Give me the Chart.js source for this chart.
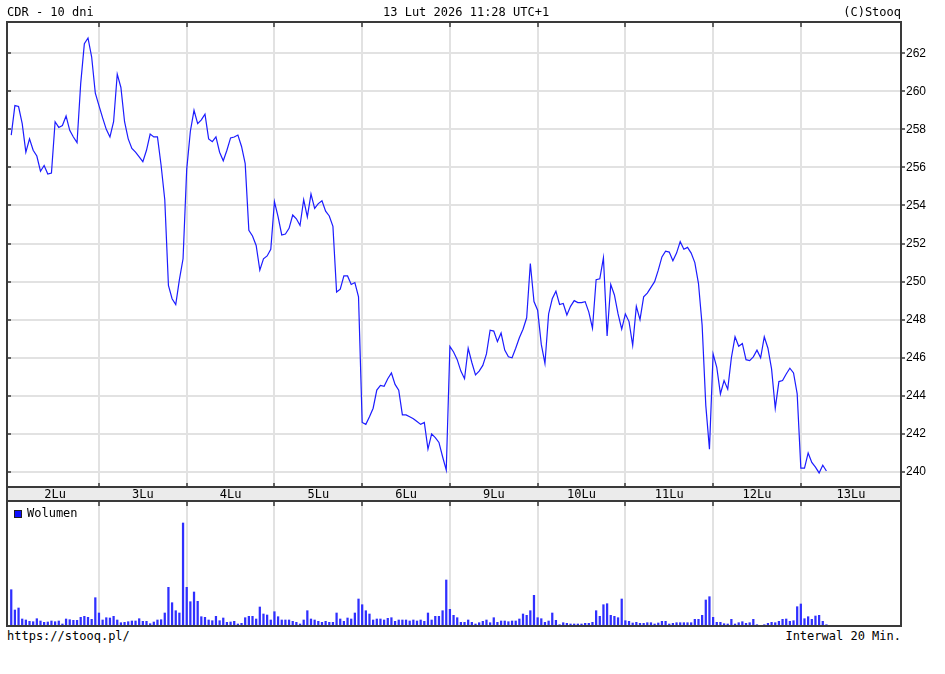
<!DOCTYPE html>
<html>
<head>
<meta charset="utf-8">
<script src="https://cdn.jsdelivr.net/npm/chart.js@4.4.1/dist/chart.umd.min.js"></script>
<style>
  body { margin: 0; background: #fff; width: 945px; height: 674px; position: relative; overflow: hidden;
         font-family: "DejaVu Sans Mono", monospace; font-size: 12px; color: #000; }
  .txt { position: absolute; white-space: pre; line-height: 14px; }
  canvas { position: absolute; left: 0; }
  .sw { display: inline-block; width: 6px; height: 6px; background: #1010ff; border: 1px solid #222;
        margin-right: 5px; vertical-align: -1px; }
</style>
</head>
<body>
<canvas id="priceChart" width="945" height="502" style="top:0"></canvas>
<canvas id="volChart" width="945" height="128" style="top:500px"></canvas>

<div class="txt" style="left:7px;top:5px">CDR - 10 dni</div>
<div class="txt" style="left:383px;top:5px">13 Lut 2026 11:28 UTC+1</div>
<div class="txt" style="right:44px;top:5px">(C)Stooq</div>
<div class="txt" style="left:14px;top:506px"><span class="sw"></span>Wolumen</div>
<div class="txt" style="left:7px;top:629px">https://stooq.pl/</div>
<div class="txt" style="right:44px;top:629px">Interwal 20 Min.</div>

<script>
// =========================
// DATA (20 min bars, 24 per session)
// =========================
const slotsPerDay = 24;
const dayLabels = ["2Lu", "3Lu", "4Lu", "5Lu", "6Lu", "9Lu", "10Lu", "11Lu", "12Lu", "13Lu"];
const priceTicks = [240, 242, 244, 246, 248, 250, 252, 254, 256, 258, 260, 262];

const price = [
    // 2Lu
    257.7, 259.25, 259.2, 258.3, 256.8, 257.5, 256.9, 256.6, 255.8, 256.1, 255.65, 255.7,
    258.4, 258.1, 258.2, 258.7, 257.95, 257.6, 257.3, 260.4, 262.5, 262.8, 261.8, 259.9,
    // 3Lu
    259.25, 258.6, 258.0, 257.6, 258.4, 260.9, 260.2, 258.4, 257.5, 257.0, 256.8, 256.55,
    256.3, 256.9, 257.75, 257.6, 257.6, 256.1, 254.3, 249.8, 249.1, 248.8, 250.1, 251.2,
    // 4Lu
    255.9, 257.9, 259.0, 258.3, 258.5, 258.8, 257.5, 257.35, 257.6, 256.8, 256.35, 256.9,
    257.55, 257.6, 257.7, 257.1, 256.2, 252.7, 252.4, 251.9, 250.6, 251.2, 251.35, 251.7,
    // 5Lu
    254.2, 253.4, 252.45, 252.5, 252.8, 253.5, 253.3, 252.95, 254.3, 253.4, 254.6, 253.85,
    254.1, 254.25, 253.7, 253.45, 252.9, 249.45, 249.6, 250.3, 250.3, 249.85, 249.95, 249.2,
    // 6Lu
    242.6, 242.5, 242.9, 243.35, 244.3, 244.55, 244.5, 244.9, 245.2, 244.6, 244.3, 243.0,
    243.0, 242.9, 242.8, 242.65, 242.5, 242.6, 241.2, 242.0, 241.8, 241.55, 240.8, 240.1,
    // 9Lu
    246.6, 246.3, 245.9, 245.3, 244.9, 246.5, 245.75, 245.1, 245.3, 245.6, 246.2, 247.45,
    247.4, 246.85, 247.3, 246.4, 246.05, 246.0, 246.5, 247.05, 247.5, 248.1, 250.95, 248.95,
    // 10Lu
    248.5, 246.7, 245.7, 248.3, 249.1, 249.5, 248.8, 248.85, 248.25, 248.7, 249.0, 248.9,
    248.9, 248.95, 248.4, 247.55, 250.1, 250.15, 251.25, 247.15, 249.85, 249.3, 248.3, 247.5,
    // 11Lu
    248.3, 247.9, 246.65, 248.7, 248.0, 249.2, 249.4, 249.7, 250.0, 250.6, 251.3, 251.6,
    251.55, 251.1, 251.5, 252.1, 251.7, 251.8, 251.5, 251.0, 249.9, 247.7, 243.5, 241.2,
    // 12Lu
    246.2, 245.5, 244.1, 244.8, 244.35, 246.0, 247.1, 246.6, 246.75, 245.9, 245.85, 246.05,
    246.4, 246.0, 247.1, 246.5, 245.4, 243.35, 244.75, 244.8, 245.15, 245.45, 245.2, 244.1,
    // 13Lu
    240.2, 240.2, 241.0, 240.5, 240.25, 239.95, 240.35, 240.05
];

// relative volume (bar height)
const volume = [
    36.3, 16, 18, 7, 6, 4.7, 4.3, 7.3, 5, 3.7, 4, 5, 4.3, 5, 2, 7, 6.3, 5.7, 5.7, 8.7, 9.7, 8.7, 6.7, 28.3,
    13, 6, 8.3, 8, 9.7, 6, 3.3, 3.7, 4.3, 5, 5, 7.3, 4.7, 4.7, 2.3, 4, 6, 6.3, 13, 38.7, 23.3, 15.3, 13, 103,
    38.7, 24.3, 34, 24.7, 9.3, 8.7, 6, 5.3, 9.7, 5.3, 8, 3.7, 4, 4.7, 2, 2.7, 8.3, 9.7, 9.7, 7, 19, 12, 11, 6,
    14.3, 9.3, 6, 6, 6, 4.7, 3.7, 2, 6, 15.3, 7, 6, 4.7, 3.7, 4.7, 3.7, 3.7, 13, 7, 4.7, 8, 7, 13, 27,
    21.3, 15.3, 12, 6, 7, 7, 6, 7.7, 8.3, 4.7, 6, 6, 6, 5, 6, 5, 6, 4.7, 13, 6, 9.7, 9.7, 15.3, 46,
    16.7, 10.7, 8.3, 3.7, 3.7, 6, 3.7, 2, 3.3, 4.7, 6, 3.3, 8.3, 3.7, 5, 5, 4.3, 5, 5, 7, 12, 10.7, 15.3, 30.7,
    8.3, 7.3, 3.7, 5, 13, 5.7, 1.3, 3.3, 2.7, 2, 2, 2, 2, 2.7, 2.7, 3.7, 15.3, 9.7, 21.3, 22.3, 10.7, 9.7, 8.3, 27,
    5.3, 4.7, 3, 3.7, 2.7, 2.7, 3.3, 3.3, 2, 3, 4.7, 4.7, 2, 2.7, 3.3, 3.3, 3.3, 3.3, 3.3, 6.7, 6.7, 10.7, 26, 29.3,
    8.7, 3.7, 3.7, 2.3, 2, 6.7, 2, 3.3, 4.3, 2.7, 3.3, 6.7, 1.3, 0.7, 1.3, 2.7, 3.7, 3.3, 4.7, 6.7, 7, 4.7, 5.3, 19.3,
    22, 7.3, 9.3, 6.7, 10, 10.7, 4.7, 1.3
];

// =========================
// AXIS SETUP
// =========================
const X_MIN = -1.16;
const X_MAX = 243.4;
const last = dayLabels.length - 1;
const dayBreaks = dayLabels.slice(1).map((_, i) => (i + 1) * slotsPerDay);
const labelPos = dayLabels.map((_, i) =>
    i < last ? i * slotsPerDay + slotsPerDay / 2 : (i * slotsPerDay + X_MAX) / 2);

const GRID = "#e2e2e2";
const FRAME = "#3a3a3a";
const MONO = "DejaVu Sans Mono";

function breakGrid(scale) {
    scale.ticks = dayBreaks.map(v => ({ value: v }));
}

// frame, label strip and the little tick marks on the borders
const frame = {
    id: "frame",
    beforeDraw(chart, args, o) {
        if (!o.strip) return;
        const { ctx, chartArea: a } = chart;
        ctx.save();
        ctx.fillStyle = "#ebebeb";
        ctx.fillRect(a.left, a.bottom, a.right - a.left, o.strip);
        ctx.restore();
    },
    afterDraw(chart, args, o) {
        const { ctx, chartArea: a, scales } = chart;
        ctx.save();
        ctx.strokeStyle = FRAME;
        ctx.lineWidth = 2;
        ctx.strokeRect(a.left, a.top, a.right - a.left, a.bottom - a.top);
        if (o.strip) ctx.strokeRect(a.left, a.bottom, a.right - a.left, o.strip);

        ctx.lineWidth = 1.5;
        ctx.beginPath();
        dayBreaks.forEach(v => {
            const x = Math.round(scales.x.getPixelForValue(v));
            ctx.moveTo(x, a.top);
            ctx.lineTo(x, a.top + 5);
            if (o.strip) {
                ctx.moveTo(x, a.bottom - 4);
                ctx.lineTo(x, a.bottom);
            }
        });
        if (o.leftTicks) {
            priceTicks.forEach(v => {
                const y = Math.round(scales.y.getPixelForValue(v));
                ctx.moveTo(a.left, y);
                ctx.lineTo(a.left + 4, y);
            });
        }
        ctx.stroke();
        ctx.restore();
    }
};

// =========================
// PRICE CHART
// =========================
new Chart(document.getElementById("priceChart"), {
    type: "line",
    data: {
        datasets: [{
            data: price.map((v, i) => ({ x: i, y: v })),
            borderColor: "#1c1cff",
            borderWidth: 1.2,
            pointRadius: 0,
            tension: 0,
            fill: false
        }]
    },
    options: {
        responsive: false,
        animation: false,
        events: [],
        layout: { padding: { left: 7, top: 22, right: 0, bottom: 0 } },
        plugins: {
            legend: { display: false },
            tooltip: { enabled: false },
            frame: { strip: 14, leftTicks: true }
        },
        scales: {
            x: {
                type: "linear", min: X_MIN, max: X_MAX, position: "bottom",
                afterBuildTicks: breakGrid,
                afterFit: s => { s.height = 0; },
                grid: { color: GRID, lineWidth: 2, drawTicks: false },
                border: { display: false },
                ticks: { display: false }
            },
            xd: {
                type: "linear", min: X_MIN, max: X_MAX, position: "bottom",
                afterBuildTicks: s => { s.ticks = labelPos.map(v => ({ value: v })); },
                afterFit: s => { s.height = 15; },
                grid: { display: false, drawTicks: false },
                border: { display: false },
                ticks: {
                    autoSkip: false, maxRotation: 0, padding: 1, color: "#000",
                    font: { family: MONO, size: 12 },
                    callback: (v, i) => dayLabels[i]
                }
            },
            y: {
                position: "right", min: 239.21, max: 263.64,
                afterBuildTicks: s => { s.ticks = priceTicks.map(v => ({ value: v })); },
                afterFit: s => { s.width = 44; },
                grid: { color: GRID, lineWidth: 2, tickColor: FRAME, tickLength: 4, tickWidth: 1.5 },
                border: { display: false },
                ticks: { padding: 1, color: "#000", font: { family: "Liberation Sans", size: 12 } }
            }
        }
    },
    plugins: [frame]
});

// =========================
// VOLUME CHART
// =========================
new Chart(document.getElementById("volChart"), {
    type: "bar",
    data: {
        datasets: [{
            data: volume.map((v, i) => ({ x: i, y: v })),
            backgroundColor: "#2f2fff",
            barThickness: 1.6,
            borderWidth: 0
        }]
    },
    options: {
        responsive: false,
        animation: false,
        events: [],
        layout: { padding: { left: 7, top: 1, right: 44, bottom: 2 } },
        plugins: {
            legend: { display: false },
            tooltip: { enabled: false },
            frame: {}
        },
        scales: {
            x: {
                type: "linear", min: X_MIN, max: X_MAX, offset: false,
                afterBuildTicks: breakGrid,
                afterFit: s => { s.height = 0; },
                grid: { color: GRID, lineWidth: 2, drawTicks: false, offset: false },
                border: { display: false },
                ticks: { display: false }
            },
            y: { display: false, min: 0, max: 125 }
        }
    },
    plugins: [frame]
});
</script>
</body>
</html>
